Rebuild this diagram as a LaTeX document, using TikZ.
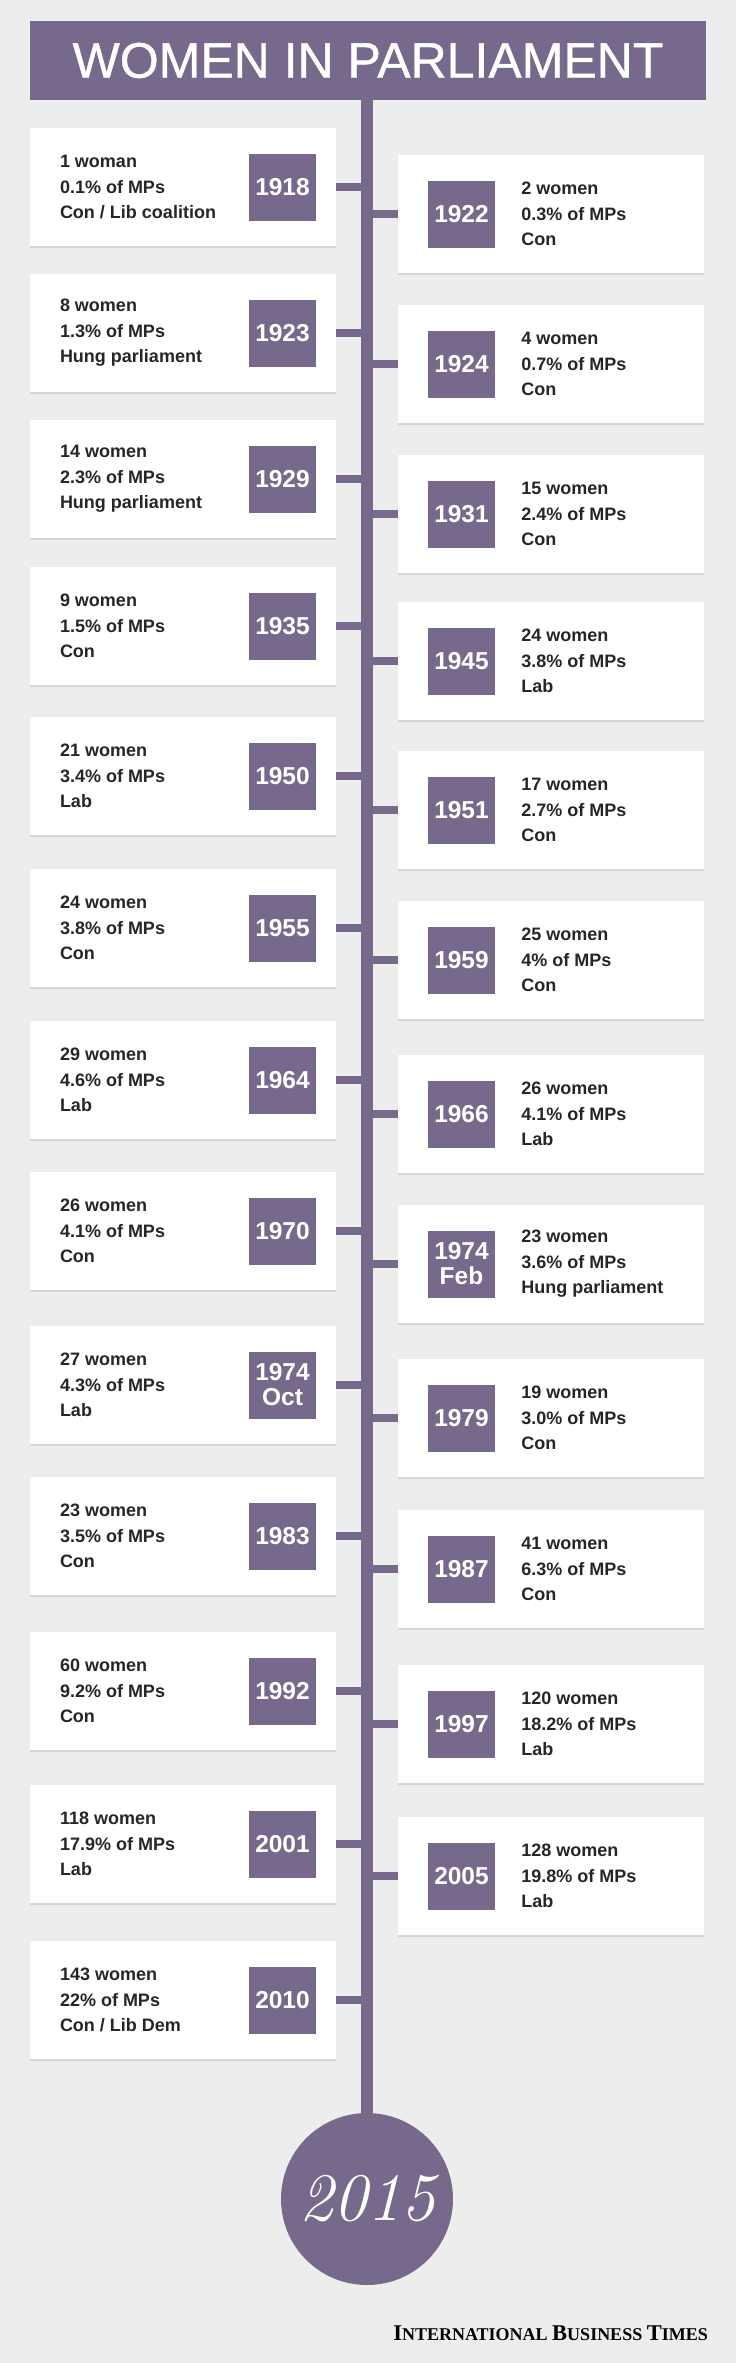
\documentclass[tikz,border=0pt]{standalone}
\usepackage{fontspec}
\newfontfamily\cardfont{Liberation Sans}
\newfontfamily\titlefont[FakeBold=0.8]{Liberation Sans}
\newfontfamily\ibtfont{Liberation Serif}
\usepackage{tikz}
\usetikzlibrary{positioning,shadows}
\usepackage{xcolor}
\definecolor{ibtpurple}{RGB}{119,105,139}
\definecolor{ibtgrey}{RGB}{237,237,237}
\definecolor{ibtink}{RGB}{38,38,38}

\begin{document}
\begin{tikzpicture}[x=1pt,y=-1pt,
  banner/.style={fill=ibtpurple,minimum width=676pt,minimum height=79pt,inner sep=0pt,
                 text=white,font=\titlefont\fontsize{50}{50}\selectfont},
  card/.style={fill=white,minimum width=306pt,minimum height=118pt,inner sep=0pt,
               drop shadow={shadow xshift=0pt,shadow yshift=-2pt,fill=black!25,opacity=.5}},
  year/.style={fill=ibtpurple,minimum size=67pt,inner sep=0pt,align=center,
               text=white,font=\cardfont\bfseries\fontsize{24.5}{25}\selectfont},
  info/.style={align=left,inner sep=0pt,text=ibtink,
               font=\cardfont\bfseries\fontsize{18}{25.5}\selectfont},
  link/.style={draw=ibtpurple,line width=7.5pt},
  timeline/.style={draw=ibtpurple,line width=12pt},
  finale/.style={circle,fill=ibtpurple,minimum size=172pt,inner sep=0pt,
                 text=white,font=\itshape\fontsize{68}{68}\selectfont}
]
  % Background
  \fill[ibtgrey] (0,0) rectangle (736,2363);
  % Title banner
  \node[banner] (title) at (368,60.5) {WOMEN IN PARLIAMENT};
  % End of timeline
  \node[finale] (y2015) at (367,2199) {2015};
  \draw[timeline] (title.south -| y2015) -- (y2015.north);

  % Left column
  \node[card] (c1918) at (183,187) {};
  \node[year,left=20pt of c1918.east] (y1918) {1918};
  \node[info,right=30pt of c1918.west] (t1918) {1 woman\\0.1\% of MPs\\Con / Lib coalition};
  \draw[link] (c1918.east) -- (c1918.east -| y2015);

  \node[card] (c1923) at (183,333) {};
  \node[year,left=20pt of c1923.east] (y1923) {1923};
  \node[info,right=30pt of c1923.west] (t1923) {8 women\\1.3\% of MPs\\Hung parliament};
  \draw[link] (c1923.east) -- (c1923.east -| y2015);

  \node[card] (c1929) at (183,479) {};
  \node[year,left=20pt of c1929.east] (y1929) {1929};
  \node[info,right=30pt of c1929.west] (t1929) {14 women\\2.3\% of MPs\\Hung parliament};
  \draw[link] (c1929.east) -- (c1929.east -| y2015);

  \node[card] (c1935) at (183,626) {};
  \node[year,left=20pt of c1935.east] (y1935) {1935};
  \node[info,right=30pt of c1935.west] (t1935) {9 women\\1.5\% of MPs\\Con};
  \draw[link] (c1935.east) -- (c1935.east -| y2015);

  \node[card] (c1950) at (183,776) {};
  \node[year,left=20pt of c1950.east] (y1950) {1950};
  \node[info,right=30pt of c1950.west] (t1950) {21 women\\3.4\% of MPs\\Lab};
  \draw[link] (c1950.east) -- (c1950.east -| y2015);

  \node[card] (c1955) at (183,928) {};
  \node[year,left=20pt of c1955.east] (y1955) {1955};
  \node[info,right=30pt of c1955.west] (t1955) {24 women\\3.8\% of MPs\\Con};
  \draw[link] (c1955.east) -- (c1955.east -| y2015);

  \node[card] (c1964) at (183,1080) {};
  \node[year,left=20pt of c1964.east] (y1964) {1964};
  \node[info,right=30pt of c1964.west] (t1964) {29 women\\4.6\% of MPs\\Lab};
  \draw[link] (c1964.east) -- (c1964.east -| y2015);

  \node[card] (c1970) at (183,1231) {};
  \node[year,left=20pt of c1970.east] (y1970) {1970};
  \node[info,right=30pt of c1970.west] (t1970) {26 women\\4.1\% of MPs\\Con};
  \draw[link] (c1970.east) -- (c1970.east -| y2015);

  \node[card] (c1974oct) at (183,1385) {};
  \node[year,left=20pt of c1974oct.east] (y1974oct) {1974\\Oct};
  \node[info,right=30pt of c1974oct.west] (t1974oct) {27 women\\4.3\% of MPs\\Lab};
  \draw[link] (c1974oct.east) -- (c1974oct.east -| y2015);

  \node[card] (c1983) at (183,1536) {};
  \node[year,left=20pt of c1983.east] (y1983) {1983};
  \node[info,right=30pt of c1983.west] (t1983) {23 women\\3.5\% of MPs\\Con};
  \draw[link] (c1983.east) -- (c1983.east -| y2015);

  \node[card] (c1992) at (183,1691) {};
  \node[year,left=20pt of c1992.east] (y1992) {1992};
  \node[info,right=30pt of c1992.west] (t1992) {60 women\\9.2\% of MPs\\Con};
  \draw[link] (c1992.east) -- (c1992.east -| y2015);

  \node[card] (c2001) at (183,1844) {};
  \node[year,left=20pt of c2001.east] (y2001) {2001};
  \node[info,right=30pt of c2001.west] (t2001) {118 women\\17.9\% of MPs\\Lab};
  \draw[link] (c2001.east) -- (c2001.east -| y2015);

  \node[card] (c2010) at (183,2000) {};
  \node[year,left=20pt of c2010.east] (y2010) {2010};
  \node[info,right=30pt of c2010.west] (t2010) {143 women\\22\% of MPs\\Con / Lib Dem};
  \draw[link] (c2010.east) -- (c2010.east -| y2015);

  % Right column
  \node[card] (c1922) at (551,214) {};
  \node[year,right=30pt of c1922.west] (y1922) {1922};
  \node[info,right=26pt of y1922] (t1922) {2 women\\0.3\% of MPs\\Con};
  \draw[link] (c1922.west) -- (c1922.west -| y2015);

  \node[card] (c1924) at (551,364) {};
  \node[year,right=30pt of c1924.west] (y1924) {1924};
  \node[info,right=26pt of y1924] (t1924) {4 women\\0.7\% of MPs\\Con};
  \draw[link] (c1924.west) -- (c1924.west -| y2015);

  \node[card] (c1931) at (551,514) {};
  \node[year,right=30pt of c1931.west] (y1931) {1931};
  \node[info,right=26pt of y1931] (t1931) {15 women\\2.4\% of MPs\\Con};
  \draw[link] (c1931.west) -- (c1931.west -| y2015);

  \node[card] (c1945) at (551,661) {};
  \node[year,right=30pt of c1945.west] (y1945) {1945};
  \node[info,right=26pt of y1945] (t1945) {24 women\\3.8\% of MPs\\Lab};
  \draw[link] (c1945.west) -- (c1945.west -| y2015);

  \node[card] (c1951) at (551,810) {};
  \node[year,right=30pt of c1951.west] (y1951) {1951};
  \node[info,right=26pt of y1951] (t1951) {17 women\\2.7\% of MPs\\Con};
  \draw[link] (c1951.west) -- (c1951.west -| y2015);

  \node[card] (c1959) at (551,960) {};
  \node[year,right=30pt of c1959.west] (y1959) {1959};
  \node[info,right=26pt of y1959] (t1959) {25 women\\4\% of MPs\\Con};
  \draw[link] (c1959.west) -- (c1959.west -| y2015);

  \node[card] (c1966) at (551,1114) {};
  \node[year,right=30pt of c1966.west] (y1966) {1966};
  \node[info,right=26pt of y1966] (t1966) {26 women\\4.1\% of MPs\\Lab};
  \draw[link] (c1966.west) -- (c1966.west -| y2015);

  \node[card] (c1974feb) at (551,1264) {};
  \node[year,right=30pt of c1974feb.west] (y1974feb) {1974\\Feb};
  \node[info,right=26pt of y1974feb] (t1974feb) {23 women\\3.6\% of MPs\\Hung parliament};
  \draw[link] (c1974feb.west) -- (c1974feb.west -| y2015);

  \node[card] (c1979) at (551,1418) {};
  \node[year,right=30pt of c1979.west] (y1979) {1979};
  \node[info,right=26pt of y1979] (t1979) {19 women\\3.0\% of MPs\\Con};
  \draw[link] (c1979.west) -- (c1979.west -| y2015);

  \node[card] (c1987) at (551,1569) {};
  \node[year,right=30pt of c1987.west] (y1987) {1987};
  \node[info,right=26pt of y1987] (t1987) {41 women\\6.3\% of MPs\\Con};
  \draw[link] (c1987.west) -- (c1987.west -| y2015);

  \node[card] (c1997) at (551,1724) {};
  \node[year,right=30pt of c1997.west] (y1997) {1997};
  \node[info,right=26pt of y1997] (t1997) {120 women\\18.2\% of MPs\\Lab};
  \draw[link] (c1997.west) -- (c1997.west -| y2015);

  \node[card] (c2005) at (551,1876) {};
  \node[year,right=30pt of c2005.west] (y2005) {2005};
  \node[info,right=26pt of y2005] (t2005) {128 women\\19.8\% of MPs\\Lab};
  \draw[link] (c2005.west) -- (c2005.west -| y2015);

  % Credit line
  \node[anchor=base east,inner sep=0pt,text=black,font=\ibtfont\bfseries\fontsize{18}{18}\selectfont]
    (credit) at (708,2340) {{\fontsize{22.5}{22}\selectfont I}NTERNATIONAL {\fontsize{22.5}{22}\selectfont B}USINESS {\fontsize{22.5}{22}\selectfont T}IMES};
\end{tikzpicture}
\end{document}
